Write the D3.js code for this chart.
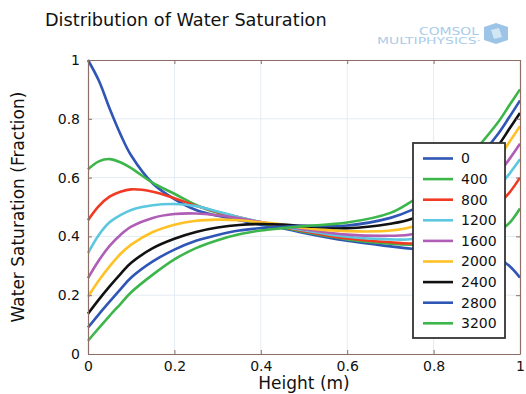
<!DOCTYPE html>
<html>
<head>
<meta charset="utf-8">
<script src="https://cdn.jsdelivr.net/npm/d3@7/dist/d3.min.js"></script>
<style>
  body { margin: 0; background: #fff; }
  svg { display: block; font-family: "DejaVu Sans", sans-serif; }
</style>
</head>
<body>
<svg id="chart"></svg>
<script>
// sample heights (m)
const heights = [0, 0.025, 0.05, 0.075, 0.1, 0.15, 0.2, 0.25, 0.3, 0.35, 0.4, 0.45, 0.5, 0.6, 0.7, 0.75, 0.8, 0.85, 0.9, 0.95, 0.975, 1];

// legend labels (time)
const times = ["0", "400", "800", "1200", "1600", "2000", "2400", "2800", "3200"];
const colors = ["#2f55b5", "#3cb64a", "#f03a24", "#5bc8e0", "#b05db5", "#ffc226", "#111111", "#2f55b5", "#3cb64a"];

// water saturation, one array per time
const s0    = [1.0, 0.93, 0.835, 0.748, 0.675, 0.58, 0.527, 0.49, 0.47, 0.455, 0.44, 0.428, 0.412, 0.385, 0.366, 0.358, 0.353, 0.35, 0.345, 0.325, 0.30, 0.26];
const s400  = [0.628, 0.655, 0.663, 0.652, 0.632, 0.582, 0.545, 0.507, 0.48, 0.46, 0.444, 0.43, 0.415, 0.39, 0.375, 0.372, 0.375, 0.385, 0.40, 0.418, 0.445, 0.495];
const s800  = [0.455, 0.503, 0.535, 0.552, 0.56, 0.552, 0.53, 0.504, 0.483, 0.465, 0.447, 0.432, 0.418, 0.393, 0.38, 0.376, 0.39, 0.415, 0.455, 0.51, 0.548, 0.60];
const s1200 = [0.343, 0.405, 0.448, 0.472, 0.49, 0.506, 0.51, 0.503, 0.485, 0.465, 0.449, 0.434, 0.421, 0.399, 0.39, 0.391, 0.41, 0.445, 0.50, 0.57, 0.612, 0.662];
const s1600 = [0.258, 0.318, 0.368, 0.405, 0.433, 0.463, 0.476, 0.478, 0.472, 0.462, 0.449, 0.436, 0.424, 0.406, 0.402, 0.407, 0.435, 0.475, 0.54, 0.615, 0.662, 0.715];
const s2000 = [0.195, 0.25, 0.298, 0.34, 0.372, 0.415, 0.44, 0.453, 0.457, 0.455, 0.448, 0.44, 0.429, 0.418, 0.42, 0.433, 0.465, 0.51, 0.58, 0.665, 0.72, 0.775];
const s2400 = [0.137, 0.185, 0.23, 0.272, 0.31, 0.36, 0.392, 0.415, 0.43, 0.439, 0.442, 0.44, 0.435, 0.428, 0.443, 0.46, 0.50, 0.55, 0.62, 0.71, 0.765, 0.82];
const s2800 = [0.09, 0.135, 0.178, 0.22, 0.26, 0.315, 0.355, 0.385, 0.405, 0.42, 0.428, 0.433, 0.436, 0.437, 0.463, 0.49, 0.53, 0.585, 0.66, 0.75, 0.805, 0.862];
const s3200 = [0.045, 0.088, 0.13, 0.17, 0.21, 0.27, 0.322, 0.36, 0.387, 0.407, 0.42, 0.428, 0.435, 0.447, 0.48, 0.52, 0.565, 0.62, 0.70, 0.79, 0.845, 0.90];
const series = [s0, s400, s800, s1200, s1600, s2000, s2400, s2800, s3200];

const xTicks = [0, 0.2, 0.4, 0.6, 0.8, 1];
const yTicks = [0, 0.2, 0.4, 0.6, 0.8, 1];

const W = 526, H = 394;
const margin = { top: 60, right: 6, bottom: 40, left: 88 };
const width = W - margin.left - margin.right;
const height = H - margin.top - margin.bottom;

const frame = "#8c6e64";
const grid = "#e4ebf3";

const svg = d3.select("#chart").attr("width", W).attr("height", H);

const x = d3.scaleLinear().domain([0, 1]).range([0, width]);
const y = d3.scaleLinear().domain([0, 1]).range([height, 0]);

const fmt = d => d3.format("~g")(d);

// title
svg.append("text")
  .attr("x", 45).attr("y", 26)
  .attr("font-size", 17.7)
  .attr("fill", "#111")
  .text("Distribution of Water Saturation");

// logo
const logo = svg.append("g").attr("fill", "#a9cce8");
logo.append("text").attr("x", 419).attr("y", 35)
  .attr("font-size", 10).attr("textLength", 60).attr("lengthAdjust", "spacingAndGlyphs")
  .text("COMSOL");
logo.append("text").attr("x", 377).attr("y", 44)
  .attr("font-size", 9).attr("textLength", 104).attr("lengthAdjust", "spacingAndGlyphs")
  .text("MULTIPHYSICS\u00b7");
logo.append("path")
  .attr("d", "M484,27 L496,23 L508,27 L508,40 L496,44 L484,40 Z")
  .attr("fill", "#9cc4e6");
logo.append("path")
  .attr("d", "M491,30 L499,28 L502,37 L494,39 Z")
  .attr("fill", "#d3e6f4");

const g = svg.append("g").attr("transform", `translate(${margin.left},${margin.top})`);

// grid
g.append("g").selectAll("line").data(xTicks.slice(1, -1)).join("line")
  .attr("x1", d => x(d)).attr("x2", d => x(d))
  .attr("y1", 0).attr("y2", height)
  .attr("stroke", grid);
g.append("g").selectAll("line").data(yTicks.slice(1, -1)).join("line")
  .attr("y1", d => y(d)).attr("y2", d => y(d))
  .attr("x1", 0).attr("x2", width)
  .attr("stroke", grid);

// curves
const line = d3.line()
  .x((d, i) => x(heights[i]))
  .y(d => y(d))
  .curve(d3.curveCatmullRom.alpha(0.5));

g.append("g").selectAll("path").data(series).join("path")
  .attr("d", d => line(d))
  .attr("fill", "none")
  .attr("stroke", (d, i) => colors[i])
  .attr("stroke-width", 2.6);

// axes (inward ticks on all sides)
function styleAxis(sel) {
  sel.select(".domain").attr("stroke", frame).attr("stroke-width", 1.2);
  sel.selectAll(".tick line").attr("stroke", frame);
  sel.selectAll(".tick text").attr("fill", "#111").attr("font-size", 14)
    .attr("font-family", "DejaVu Sans, sans-serif");
}

g.append("g")
  .attr("transform", `translate(0,${height})`)
  .call(d3.axisBottom(x).tickValues(xTicks).tickFormat(fmt).tickSizeInner(-4).tickSizeOuter(0).tickPadding(7))
  .call(styleAxis);

g.append("g")
  .call(d3.axisLeft(y).tickValues(yTicks).tickFormat(fmt).tickSizeInner(-4).tickSizeOuter(0).tickPadding(8))
  .call(styleAxis);

g.append("g")
  .call(d3.axisTop(x).tickValues(xTicks).tickFormat("").tickSizeInner(-4).tickSizeOuter(0))
  .call(styleAxis);

g.append("g")
  .attr("transform", `translate(${width},0)`)
  .call(d3.axisRight(y).tickValues(yTicks).tickFormat("").tickSizeInner(-4).tickSizeOuter(0))
  .call(styleAxis);

// axis labels
svg.append("text")
  .attr("x", margin.left + width / 2).attr("y", 389)
  .attr("text-anchor", "middle")
  .attr("font-size", 17).attr("fill", "#111")
  .text("Height (m)");

svg.append("text")
  .attr("transform", `translate(24,${margin.top + height / 2}) rotate(-90)`)
  .attr("text-anchor", "middle")
  .attr("font-size", 17).attr("fill", "#111")
  .text("Water Saturation (Fraction)");

// legend
const legend = svg.append("g").attr("transform", "translate(413,143)");
legend.append("rect")
  .attr("width", 92).attr("height", 195)
  .attr("fill", "#fff")
  .attr("stroke", "#333").attr("stroke-width", 1.8);

const item = legend.selectAll("g.item").data(times).join("g")
  .attr("class", "item")
  .attr("transform", (d, i) => `translate(0,${15.5 + i * 20.6})`);
item.append("line")
  .attr("x1", 10).attr("x2", 40)
  .attr("stroke", (d, i) => colors[i])
  .attr("stroke-width", 2.6);
item.append("text")
  .attr("x", 48).attr("dy", "0.35em")
  .attr("font-size", 14).attr("fill", "#111")
  .text(d => d);
</script>
</body>
</html>
